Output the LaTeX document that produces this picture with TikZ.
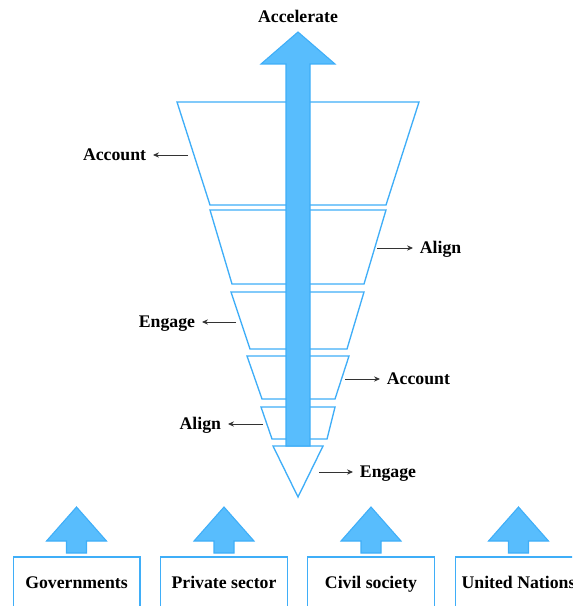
\documentclass[tikz,border=0pt]{standalone}
\usepackage{fontspec}
\setmainfont{Liberation Serif}
\usepackage{tikz}
\usetikzlibrary{arrows.meta}
\pgfdeclarelayer{funnellayer}
\pgfdeclarelayer{arrowlayer}
\pgfsetlayers{funnellayer,arrowlayer,main}
\definecolor{skyline}{HTML}{3FAEF8}
\definecolor{skyfill}{HTML}{58BDFD}
\definecolor{pointer}{HTML}{333333}
\tikzstyle{funnel}=[draw=skyline, line width=1pt, fill=white, line join=miter]
\tikzstyle{bigarrow}=[draw=skyline, fill=skyfill, line width=0.8pt]
\tikzstyle{label}=[font=\fontsize{13.3}{15}\selectfont\bfseries, inner xsep=5pt, inner ysep=0pt, text height=8.8pt, text depth=0pt]
\tikzstyle{actor}=[draw=skyline, line width=1pt, minimum width=95pt, minimum height=39pt, text height=8.8pt, text depth=0pt, font=\fontsize{13.3}{15}\selectfont\bfseries]
\tikzstyle{pointer}=[draw=pointer, line width=0.7pt, -{Stealth[length=4.5pt,width=4pt]}]

\begin{document}
\begin{tikzpicture}[x=0.75pt, y=-0.75pt]
	\clip (0,0) rectangle (572,606);
	\begin{pgfonlayer}{funnellayer}

	%funnel
		\draw [style=funnel] (177,102) -- (419,102) -- (386,205) -- (210,205) -- cycle;
		\draw [style=funnel] (210,210) -- (386,210) -- (364,284) -- (232,284) -- cycle;
		\draw [style=funnel] (231,292) -- (364,292) -- (347,349) -- (250,349) -- cycle;
		\draw [style=funnel] (247,356) -- (349,356) -- (335,399) -- (262,399) -- cycle;
		\draw [style=funnel] (261,407) -- (335,407) -- (327,439) -- (272,439) -- cycle;
		\draw [style=funnel] (273,446) -- (323,446) -- (298,497) -- cycle;

	\end{pgfonlayer}
	\begin{pgfonlayer}{arrowlayer}

	%main arrow
		\draw [style=bigarrow] (298,32) -- (335,64) -- (310,64) -- (310,446)
			-- (286,446) -- (286,64) -- (261,64) -- cycle;

	%small arrows
		\foreach \cx in {76.5,224,371,518.5}
			\draw [style=bigarrow] (\cx,507) -- (\cx+30,541) -- (\cx+10,541) -- (\cx+10,553)
				-- (\cx-10,553) -- (\cx-10,541) -- (\cx-30,541) -- cycle;

	\end{pgfonlayer}

	%labels
		\node [style=label] (top) at (298,17) {Accelerate};
		\node [style=label, anchor=east] (l1) at (153,155) {Account};
		\node [style=label, anchor=west] (r1) at (413,248) {Align};
		\node [style=label, anchor=east] (l2) at (202,322) {Engage};
		\node [style=label, anchor=west] (r2) at (380,379) {Account};
		\node [style=label, anchor=east] (l3) at (228,424) {Align};
		\node [style=label, anchor=west] (r3) at (353,472) {Engage};

		\coordinate (e1) at (188,155);
		\coordinate (e2) at (377,248);
		\coordinate (e3) at (236,322);
		\coordinate (e4) at (345,379);
		\coordinate (e5) at (263,424);
		\coordinate (e6) at (319,472);

		\draw [style=pointer] (e1) to (l1.east);
		\draw [style=pointer] (e2) to (r1.west);
		\draw [style=pointer] (e3) to (l2.east);
		\draw [style=pointer] (e4) to (r2.west);
		\draw [style=pointer] (e5) to (l3.east);
		\draw [style=pointer] (e6) to (r3.west);

	%actors
		\node [style=actor] (gov) at (76.5,583) {Governments};
		\node [style=actor] (priv) at (224,583) {Private sector};
		\node [style=actor] (civ) at (371,583) {Civil society};
		\node [style=actor] (un) at (518.5,583) {United Nations};

\end{tikzpicture}
\end{document}
